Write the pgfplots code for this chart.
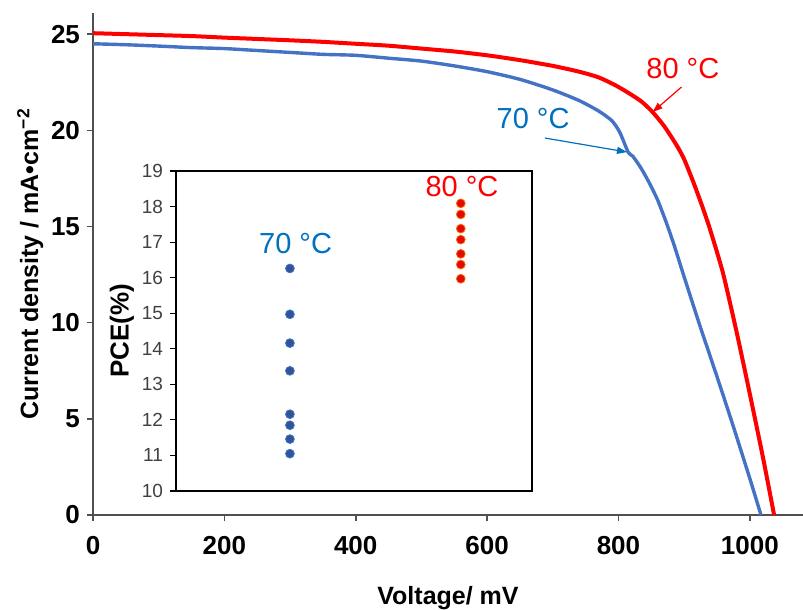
\documentclass[border=0pt]{standalone}
\usepackage{fontspec}
\setmainfont{Liberation Sans}
\usepackage{pgfplots}
\pgfplotsset{compat=1.18}
\usetikzlibrary{arrows.meta,calc}

\definecolor{curvered}{RGB}{255,0,0}
\definecolor{curveblue}{RGB}{68,114,196}
\definecolor{textblue}{RGB}{0,112,192}
\definecolor{dotblue}{RGB}{47,85,151}
\definecolor{dotred}{RGB}{225,10,0}
\definecolor{axisgray}{RGB}{80,80,80}

\begin{document}
\begin{tikzpicture}
\begin{axis}[
  name=main,
  scale only axis,
  width=355pt, height=251pt,
  xmin=0, xmax=1081, ymin=0, ymax=26.1,
  axis x line=bottom, axis y line=left,
  axis line style={-, axisgray, line width=0.8pt},
  tick style={axisgray, line width=0.8pt},
  tick align=outside, major tick length=3pt,
  xtick={0,200,...,1000}, ytick={0,5,...,25},
  /pgf/number format/1000 sep={},
  /pgf/number format/assume math mode=true,
  tick label style={font=\fontsize{13}{15}\selectfont\bfseries},
  xticklabel style={yshift=-4pt},
  xlabel={Voltage/ mV},
  ylabel={Current density / mA•cm\textsuperscript{−2}},
  label style={font=\fontsize{12.5}{14}\selectfont\bfseries},
  xlabel style={yshift=-9pt},
  ylabel style={yshift=-3pt},
]
% J-V curve, 80 C
\addplot[curvered, line width=2pt, smooth, tension=0.4] coordinates {
  (0,25.05) (50,25.0) (100,24.95) (150,24.9) (200,24.82) (250,24.75)
  (300,24.68) (350,24.6) (400,24.5) (450,24.4) (500,24.25) (550,24.1)
  (600,23.9) (650,23.65) (700,23.35) (740,23.05) (770,22.75) (795,22.35)
  (815,21.95) (835,21.5) (852,20.95) (870,20.2) (889,19.2) (900,18.5)
  (913,17.4) (926,16.2) (939,14.9) (959,12.6) (980,9.5) (1000,6.3)
  (1020,3.0) (1037,0)
};
% J-V curve, 70 C
\addplot[curveblue, line width=1.7pt, smooth, tension=0.4] coordinates {
  (0,24.5) (50,24.45) (100,24.38) (150,24.3) (200,24.25) (250,24.15)
  (300,24.05) (350,23.95) (400,23.9) (450,23.75) (500,23.6) (550,23.35)
  (600,23.05) (650,22.65) (700,22.1) (740,21.55) (770,21.0) (790,20.5)
  (802,19.9) (815,18.85) (822,18.65) (835,18.0) (848,17.2) (860,16.35)
  (874,15.1) (886,13.9) (898,12.6) (923,9.95) (950,7.2) (974,4.7)
  (1000,1.9) (1017,0)
};
\node[textblue, font=\fontsize{14.5}{16}\selectfont] at (axis cs:670,20.6) {70 °C};
\node[curvered, font=\fontsize{14.5}{16}\selectfont] at (axis cs:898,23.2) {80 °C};
\draw[textblue, line width=0.6pt, -{Triangle[length=5pt,width=3.5pt]}]
  (axis cs:688,19.6) -- (axis cs:813,18.87);
\draw[curvered, line width=0.6pt, -{Triangle[length=5pt,width=3.5pt]}]
  (axis cs:896,22.25) -- (axis cs:852,20.95);
\end{axis}

\begin{axis}[
  name=inset,
  at={($(main.south west)+(41.5pt,12pt)$)}, anchor=south west,
  scale only axis,
  width=178pt, height=160pt,
  xmin=0, xmax=3.125, ymin=10, ymax=19,
  xtick=\empty, ytick={10,11,...,19},
  ytick pos=left,
  axis line style={black, line width=0.7pt},
  tick style={black, line width=0.6pt},
  tick align=outside, major tick length=3pt,
  /pgf/number format/assume math mode=true,
  tick label style={font=\fontsize{9.5}{11}\selectfont, color=black!75},
  ylabel={PCE(\%)},
  ylabel style={font=\fontsize{13}{15}\selectfont\bfseries, yshift=-3pt},
  axis background/.style={fill=white},
]
\addplot[only marks, mark=*, mark size=2.2pt,
  mark options={fill=dotblue, draw=curveblue, line width=0.4pt}] coordinates {
  (1,16.26) (1,14.97) (1,14.16) (1,13.38) (1,12.16) (1,11.85) (1,11.46) (1,11.05)
};
\addplot[only marks, mark=*, mark size=2.2pt,
  mark options={fill=dotred, draw=orange!80!red, line width=0.4pt}] coordinates {
  (2.5,18.09) (2.5,17.78) (2.5,17.38) (2.5,17.07) (2.5,16.67) (2.5,16.37) (2.5,15.97)
};
\node[textblue, font=\fontsize{14.5}{16}\selectfont] at (axis cs:1.05,16.97) {70 °C};
\node[curvered, font=\fontsize{14.5}{16}\selectfont] at (axis cs:2.51,18.55) {80 °C};
\end{axis}

\pgfresetboundingbox
\path (main.south west) ++(-46.5pt,-47.5pt) rectangle ++(401.5pt,305pt);
\end{tikzpicture}
\end{document}
